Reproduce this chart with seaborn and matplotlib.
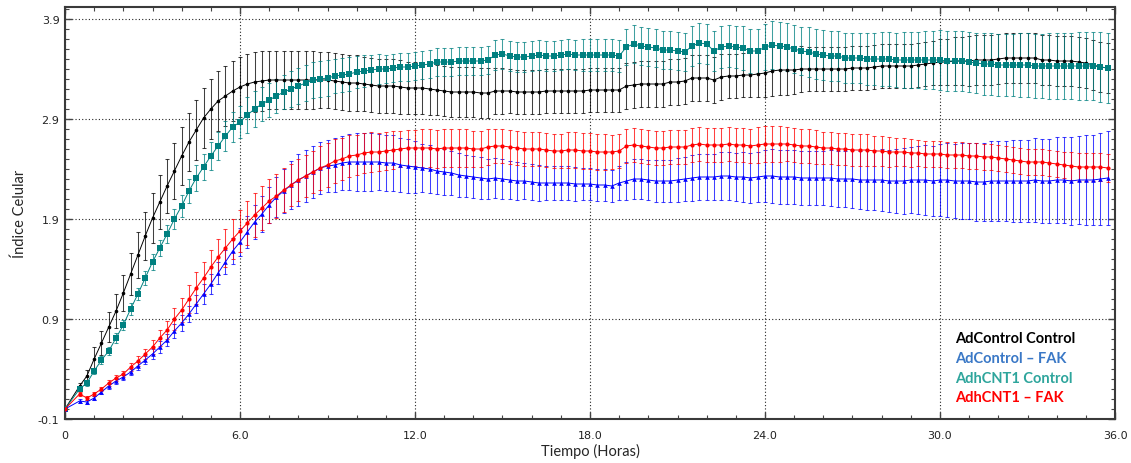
import numpy as np
import pandas as pd
import matplotlib
matplotlib.use("Agg")
import matplotlib.pyplot as plt
import seaborn as sns
from matplotlib.ticker import MultipleLocator, FixedLocator, FixedFormatter

# Sampling times (h): first reading at 0, then every 15 min from 0.5 h
hours = np.concatenate([[0.0], np.arange(0.5, 35.76, 0.25)])

series_names = ["AdControl Control", "AdControl \u2013 FAK", "AdhCNT1 Control", "AdhCNT1 \u2013 FAK"]

ad_control = [
    0.00, 0.23, 0.33, 0.50, 0.66, 0.82, 0.98, 1.16, 1.35, 1.54, 1.73, 1.91, 2.07, 2.23, 2.38, 2.53, 2.67, 2.79, 2.91, 3.00, 3.08, 3.13, 3.18, 3.22,
    3.25, 3.27, 3.28, 3.29, 3.29, 3.29, 3.29, 3.29, 3.29, 3.29, 3.29, 3.29, 3.28, 3.27, 3.26, 3.26, 3.25, 3.24, 3.23, 3.23, 3.23, 3.22, 3.21, 3.21,
    3.21, 3.20, 3.19, 3.18, 3.17, 3.17, 3.17, 3.17, 3.16, 3.16, 3.18, 3.18, 3.18, 3.17, 3.17, 3.17, 3.17, 3.18, 3.18, 3.18, 3.18, 3.18, 3.18, 3.19,
    3.19, 3.19, 3.19, 3.19, 3.23, 3.24, 3.25, 3.25, 3.25, 3.25, 3.27, 3.27, 3.28, 3.31, 3.31, 3.31, 3.29, 3.32, 3.33, 3.33, 3.34, 3.34, 3.35, 3.36,
    3.38, 3.39, 3.39, 3.39, 3.40, 3.40, 3.40, 3.40, 3.40, 3.40, 3.40, 3.41, 3.41, 3.41, 3.42, 3.43, 3.43, 3.43, 3.43, 3.43, 3.44, 3.45, 3.46, 3.47,
    3.47, 3.48, 3.48, 3.48, 3.49, 3.49, 3.49, 3.50, 3.51, 3.51, 3.51, 3.51, 3.51, 3.49, 3.49, 3.48, 3.48, 3.48, 3.47, 3.46, 3.44, 3.42, 3.41,
]
ad_control_sd = [
    0.00, 0.03, 0.06, 0.12, 0.12, 0.15, 0.17, 0.18, 0.21, 0.23, 0.24, 0.25, 0.27, 0.27, 0.28, 0.29, 0.29, 0.30, 0.30, 0.30, 0.30, 0.30, 0.30, 0.30,
    0.30, 0.30, 0.30, 0.29, 0.29, 0.29, 0.29, 0.29, 0.29, 0.29, 0.28, 0.28, 0.28, 0.28, 0.28, 0.28, 0.27, 0.27, 0.27, 0.27, 0.27, 0.27, 0.26, 0.26,
    0.26, 0.26, 0.25, 0.25, 0.25, 0.25, 0.25, 0.25, 0.25, 0.25, 0.23, 0.23, 0.22, 0.22, 0.22, 0.22, 0.22, 0.22, 0.22, 0.22, 0.22, 0.22, 0.22, 0.22,
    0.22, 0.22, 0.22, 0.22, 0.23, 0.23, 0.23, 0.23, 0.23, 0.23, 0.23, 0.23, 0.23, 0.23, 0.23, 0.23, 0.23, 0.23, 0.22, 0.22, 0.22, 0.22, 0.23, 0.24,
    0.25, 0.25, 0.25, 0.24, 0.23, 0.22, 0.22, 0.22, 0.22, 0.22, 0.22, 0.22, 0.22, 0.22, 0.22, 0.22, 0.22, 0.22, 0.22, 0.22, 0.22, 0.22, 0.22, 0.23,
    0.23, 0.24, 0.24, 0.25, 0.25, 0.25, 0.25, 0.25, 0.25, 0.25, 0.25, 0.25, 0.25, 0.25, 0.25, 0.25, 0.25, 0.25, 0.25, 0.25, 0.25, 0.25, 0.25,
]

ad_fak = [
    0.00, 0.08, 0.07, 0.11, 0.17, 0.23, 0.28, 0.32, 0.37, 0.43, 0.49, 0.55, 0.62, 0.69, 0.78, 0.86, 0.95, 1.05, 1.15, 1.25, 1.36, 1.47, 1.58, 1.67,
    1.77, 1.87, 1.95, 2.04, 2.12, 2.18, 2.24, 2.29, 2.33, 2.37, 2.41, 2.43, 2.44, 2.46, 2.47, 2.47, 2.47, 2.47, 2.47, 2.46, 2.46, 2.44, 2.43, 2.42,
    2.41, 2.40, 2.38, 2.37, 2.36, 2.34, 2.33, 2.32, 2.31, 2.30, 2.31, 2.30, 2.29, 2.28, 2.28, 2.27, 2.26, 2.26, 2.26, 2.26, 2.26, 2.25, 2.25, 2.25,
    2.24, 2.24, 2.23, 2.26, 2.28, 2.30, 2.30, 2.29, 2.28, 2.28, 2.28, 2.29, 2.30, 2.31, 2.32, 2.32, 2.32, 2.33, 2.33, 2.32, 2.32, 2.31, 2.32, 2.33,
    2.33, 2.32, 2.32, 2.32, 2.31, 2.31, 2.31, 2.31, 2.31, 2.30, 2.30, 2.30, 2.29, 2.29, 2.29, 2.29, 2.28, 2.28, 2.28, 2.29, 2.29, 2.29, 2.28, 2.29,
    2.29, 2.28, 2.28, 2.28, 2.27, 2.27, 2.28, 2.28, 2.28, 2.28, 2.28, 2.28, 2.29, 2.28, 2.28, 2.29, 2.29, 2.28, 2.29, 2.29, 2.29, 2.30, 2.31,
]
ad_fak_sd = [
    0.00, 0.02, 0.02, 0.02, 0.02, 0.03, 0.03, 0.03, 0.03, 0.04, 0.04, 0.05, 0.06, 0.06, 0.07, 0.08, 0.08, 0.09, 0.10, 0.10, 0.11, 0.12, 0.13, 0.14,
    0.16, 0.17, 0.18, 0.18, 0.20, 0.22, 0.24, 0.26, 0.26, 0.26, 0.26, 0.26, 0.27, 0.27, 0.28, 0.29, 0.29, 0.29, 0.28, 0.28, 0.28, 0.27, 0.27, 0.26,
    0.24, 0.24, 0.23, 0.23, 0.22, 0.22, 0.21, 0.21, 0.21, 0.20, 0.20, 0.20, 0.19, 0.19, 0.18, 0.18, 0.18, 0.17, 0.17, 0.17, 0.17, 0.17, 0.16, 0.16,
    0.16, 0.16, 0.16, 0.17, 0.19, 0.20, 0.20, 0.20, 0.21, 0.21, 0.21, 0.22, 0.22, 0.23, 0.23, 0.23, 0.23, 0.24, 0.24, 0.24, 0.25, 0.25, 0.25, 0.26,
    0.27, 0.27, 0.27, 0.27, 0.27, 0.27, 0.27, 0.27, 0.28, 0.28, 0.28, 0.29, 0.29, 0.30, 0.30, 0.31, 0.31, 0.32, 0.33, 0.33, 0.34, 0.35, 0.35, 0.36,
    0.37, 0.37, 0.38, 0.38, 0.39, 0.39, 0.40, 0.40, 0.40, 0.41, 0.41, 0.41, 0.42, 0.42, 0.42, 0.43, 0.43, 0.44, 0.44, 0.45, 0.45, 0.46, 0.47,
]

adh_control = [
    0.00, 0.20, 0.26, 0.38, 0.49, 0.58, 0.71, 0.84, 1.00, 1.15, 1.31, 1.47, 1.61, 1.75, 1.90, 2.03, 2.18, 2.31, 2.42, 2.53, 2.63, 2.73, 2.82, 2.87,
    2.94, 3.00, 3.05, 3.09, 3.13, 3.17, 3.20, 3.23, 3.26, 3.29, 3.30, 3.31, 3.33, 3.34, 3.35, 3.37, 3.38, 3.39, 3.40, 3.40, 3.41, 3.42, 3.42, 3.43,
    3.44, 3.45, 3.47, 3.47, 3.47, 3.48, 3.48, 3.48, 3.48, 3.49, 3.54, 3.55, 3.53, 3.52, 3.52, 3.53, 3.54, 3.53, 3.53, 3.54, 3.55, 3.54, 3.54, 3.54,
    3.54, 3.54, 3.54, 3.53, 3.62, 3.65, 3.63, 3.62, 3.61, 3.59, 3.59, 3.58, 3.57, 3.63, 3.66, 3.65, 3.58, 3.62, 3.63, 3.62, 3.61, 3.58, 3.58, 3.62,
    3.64, 3.63, 3.62, 3.60, 3.58, 3.57, 3.55, 3.54, 3.53, 3.53, 3.51, 3.51, 3.51, 3.50, 3.50, 3.50, 3.50, 3.49, 3.49, 3.49, 3.49, 3.49, 3.49, 3.49,
    3.48, 3.48, 3.48, 3.47, 3.46, 3.45, 3.45, 3.44, 3.44, 3.44, 3.44, 3.44, 3.43, 3.43, 3.43, 3.43, 3.43, 3.43, 3.43, 3.43, 3.43, 3.42, 3.41,
]
adh_control_sd = [
    0.00, 0.02, 0.03, 0.03, 0.04, 0.04, 0.05, 0.05, 0.06, 0.06, 0.07, 0.08, 0.08, 0.09, 0.10, 0.11, 0.12, 0.13, 0.13, 0.14, 0.14, 0.15, 0.15, 0.16,
    0.18, 0.18, 0.17, 0.17, 0.17, 0.17, 0.18, 0.18, 0.18, 0.18, 0.18, 0.18, 0.17, 0.17, 0.17, 0.16, 0.16, 0.15, 0.15, 0.14, 0.14, 0.14, 0.14, 0.14,
    0.14, 0.14, 0.14, 0.14, 0.14, 0.14, 0.14, 0.14, 0.14, 0.14, 0.15, 0.15, 0.15, 0.15, 0.15, 0.15, 0.15, 0.15, 0.15, 0.15, 0.15, 0.15, 0.16, 0.16,
    0.16, 0.16, 0.16, 0.16, 0.18, 0.19, 0.19, 0.19, 0.19, 0.19, 0.19, 0.19, 0.19, 0.20, 0.20, 0.20, 0.20, 0.21, 0.21, 0.21, 0.22, 0.22, 0.22, 0.23,
    0.24, 0.24, 0.24, 0.24, 0.24, 0.25, 0.25, 0.25, 0.25, 0.25, 0.25, 0.25, 0.25, 0.26, 0.26, 0.27, 0.27, 0.27, 0.28, 0.28, 0.28, 0.29, 0.29, 0.30,
    0.30, 0.30, 0.30, 0.30, 0.30, 0.31, 0.31, 0.31, 0.31, 0.31, 0.32, 0.32, 0.32, 0.32, 0.33, 0.33, 0.33, 0.33, 0.34, 0.34, 0.34, 0.35, 0.35,
]

adh_fak = [
    0.00, 0.15, 0.11, 0.15, 0.20, 0.26, 0.31, 0.35, 0.42, 0.48, 0.55, 0.62, 0.71, 0.79, 0.90, 0.99, 1.10, 1.21, 1.31, 1.42, 1.52, 1.61, 1.70, 1.78,
    1.86, 1.94, 2.01, 2.08, 2.13, 2.19, 2.24, 2.29, 2.33, 2.37, 2.41, 2.44, 2.48, 2.50, 2.53, 2.54, 2.56, 2.57, 2.57, 2.58, 2.59, 2.60, 2.61, 2.61,
    2.61, 2.61, 2.60, 2.61, 2.61, 2.61, 2.61, 2.60, 2.60, 2.62, 2.63, 2.63, 2.62, 2.61, 2.60, 2.60, 2.60, 2.59, 2.58, 2.58, 2.59, 2.59, 2.58, 2.58,
    2.57, 2.57, 2.57, 2.58, 2.63, 2.64, 2.63, 2.62, 2.61, 2.61, 2.62, 2.62, 2.62, 2.64, 2.65, 2.64, 2.64, 2.64, 2.65, 2.64, 2.64, 2.63, 2.64, 2.65,
    2.65, 2.65, 2.65, 2.64, 2.63, 2.63, 2.62, 2.61, 2.61, 2.60, 2.60, 2.59, 2.59, 2.59, 2.58, 2.58, 2.57, 2.57, 2.57, 2.56, 2.56, 2.55, 2.55, 2.55,
    2.54, 2.54, 2.54, 2.53, 2.53, 2.52, 2.52, 2.51, 2.50, 2.49, 2.48, 2.47, 2.47, 2.47, 2.46, 2.45, 2.44, 2.43, 2.42, 2.42, 2.42, 2.42, 2.41,
]
adh_fak_sd = [
    0.00, 0.02, 0.02, 0.02, 0.02, 0.03, 0.03, 0.03, 0.04, 0.05, 0.05, 0.07, 0.08, 0.09, 0.11, 0.12, 0.14, 0.16, 0.16, 0.17, 0.18, 0.19, 0.20, 0.21,
    0.22, 0.22, 0.22, 0.22, 0.22, 0.22, 0.21, 0.21, 0.21, 0.21, 0.22, 0.22, 0.22, 0.21, 0.21, 0.20, 0.20, 0.20, 0.19, 0.19, 0.19, 0.18, 0.18, 0.18,
    0.19, 0.19, 0.19, 0.19, 0.19, 0.19, 0.19, 0.18, 0.18, 0.18, 0.17, 0.17, 0.17, 0.17, 0.17, 0.17, 0.17, 0.17, 0.17, 0.17, 0.18, 0.18, 0.18, 0.18,
    0.18, 0.18, 0.17, 0.17, 0.17, 0.17, 0.17, 0.17, 0.17, 0.17, 0.17, 0.17, 0.17, 0.17, 0.17, 0.17, 0.17, 0.17, 0.17, 0.17, 0.17, 0.17, 0.18, 0.18,
    0.18, 0.18, 0.17, 0.17, 0.17, 0.17, 0.17, 0.16, 0.16, 0.16, 0.16, 0.16, 0.16, 0.16, 0.15, 0.15, 0.15, 0.14, 0.14, 0.14, 0.13, 0.13, 0.13, 0.13,
    0.13, 0.13, 0.13, 0.13, 0.13, 0.13, 0.13, 0.13, 0.13, 0.13, 0.13, 0.13, 0.13, 0.13, 0.13, 0.13, 0.13, 0.14, 0.14, 0.14, 0.14, 0.14, 0.14,
]

x_ticks = [0, 6, 12, 18, 24, 30, 36]
x_tick_labels = ["0", "6.0", "12.0", "18.0", "24.0", "30.0", "36.0"]
y_ticks = [-0.1, 0.9, 1.9, 2.9, 3.9]
y_tick_labels = ["-0.1", "0.9", "1.9", "2.9", "3.9"]

# Line/marker colours and the matching legend text colours
line_colors = {"AdControl Control": "#000000", "AdControl \u2013 FAK": "#0000ff",
               "AdhCNT1 Control": "#008080", "AdhCNT1 \u2013 FAK": "#ff0000"}
legend_colors = {"AdControl Control": "#000000", "AdControl \u2013 FAK": "#3a78c6",
                 "AdhCNT1 Control": "#2ea59c", "AdhCNT1 \u2013 FAK": "#ff0000"}
markers = {"AdControl Control": ("o", 2.6), "AdControl \u2013 FAK": ("^", 3.3),
           "AdhCNT1 Control": ("s", 3.9), "AdhCNT1 \u2013 FAK": ("o", 3.0)}

values = {"AdControl Control": (ad_control, ad_control_sd),
          "AdControl \u2013 FAK": (ad_fak, ad_fak_sd),
          "AdhCNT1 Control": (adh_control, adh_control_sd),
          "AdhCNT1 \u2013 FAK": (adh_fak, adh_fak_sd)}

frames = []
for name, (mean, sd) in values.items():
    frames.append(pd.DataFrame({"Tiempo": hours, "Indice": mean, "SD": sd, "Serie": name}))
df = pd.concat(frames, ignore_index=True)

sns.set_style("ticks")
plt.rcParams["font.family"] = ["DejaVu Sans"]

fig = plt.figure(figsize=(11.31, 4.64), dpi=100)
ax = fig.add_axes([65 / 1131, 1 - 420 / 464, 1050 / 1131, 412 / 464])

draw_order = ["AdControl Control", "AdhCNT1 Control", "AdControl \u2013 FAK", "AdhCNT1 \u2013 FAK"]
for name in draw_order:
    sub = df[df["Serie"] == name]
    col = line_colors[name]
    ax.errorbar(sub["Tiempo"], sub["Indice"], yerr=sub["SD"], fmt="none",
                ecolor=col, elinewidth=0.75, capsize=1.5, capthick=0.75, alpha=0.75, zorder=2)
    mk, ms = markers[name]
    sns.lineplot(data=sub, x="Tiempo", y="Indice", ax=ax, color=col, linewidth=0.7,
                 marker=mk, markersize=ms, markeredgewidth=0, markerfacecolor=col,
                 errorbar=None, legend=False, zorder=3)

ax.set_xlim(0, 36)
ax.set_ylim(-0.1, 4.02)
ax.xaxis.set_major_locator(FixedLocator(x_ticks))
ax.xaxis.set_major_formatter(FixedFormatter(x_tick_labels))
ax.xaxis.set_minor_locator(MultipleLocator(1))
ax.yaxis.set_major_locator(FixedLocator(y_ticks))
ax.yaxis.set_major_formatter(FixedFormatter(y_tick_labels))
ax.yaxis.set_minor_locator(MultipleLocator(0.1))

ax.grid(True, which="major", linestyle=(0, (1, 2)), color="#222222", linewidth=0.8)
ax.tick_params(which="both", direction="in", top=True, right=True, colors="#444444",
               labelcolor="#222222", labelsize=8)
ax.tick_params(which="major", length=5, width=1)
ax.tick_params(which="minor", length=3, width=0.8)
ax.tick_params(axis="x", which="major", pad=8)
ax.tick_params(axis="y", which="major", pad=4)
for sp in ax.spines.values():
    sp.set_color("#3a3a3a")
    sp.set_linewidth(1.5)

ax.set_xlabel("Tiempo (Horas)", fontsize=10.5, family=["Lato", "DejaVu Sans"], labelpad=2)
ax.set_ylabel("\u00cdndice Celular", fontsize=10.5, family=["Lato", "DejaVu Sans"], labelpad=8)

legend_y = [0.197, 0.149, 0.100, 0.053]
for name, ly in zip(series_names, legend_y):
    ax.text(0.8476, ly, name, transform=ax.transAxes, ha="left", va="center",
            fontsize=10.5, fontweight="bold", color=legend_colors[name],
            family=["Lato", "DejaVu Sans"], zorder=5)

fig.savefig("out.png", dpi=100)
